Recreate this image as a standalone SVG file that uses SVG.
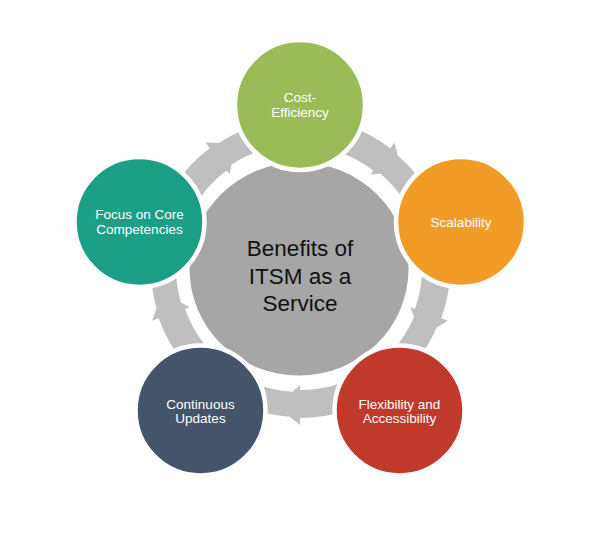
<svg xmlns="http://www.w3.org/2000/svg" width="600" height="550" viewBox="0 0 600 550">
<style>
.arrow{fill:#BFBFBF;}
.node{stroke:#FFFFFF;stroke-width:4.5;}
.lbl{font-family:"Liberation Sans",Arial,sans-serif;font-size:13.5px;fill:#FFFFFF;text-anchor:middle;}
.center{font-family:"Liberation Sans",Arial,sans-serif;font-size:22.5px;fill:#111111;text-anchor:middle;}
</style>
<defs>
<path id="arc" d="M121.35,-88.17 A150,150 0 0 1 150,0 L157,0 L148.64,10.39 A149,149 0 0 1 120.54,87.58 L100.32,72.89 A124,124 0 0 0 123.77,7.57 L117,0 L122,0 A122,122 0 0 0 98.70,-71.71 Z"/>
</defs>
<rect width="600" height="550" fill="#FFFFFF"/>
<g id="connectors">
<use href="#arc" class="arrow" transform="translate(300,268) rotate(-53)"/>
<use href="#arc" class="arrow" transform="translate(300,268) rotate(19.6)"/>
<use href="#arc" class="arrow" transform="translate(300,268) rotate(90)"/>
<use href="#arc" class="arrow" transform="translate(300,268) rotate(160.4)"/>
<use href="#arc" class="arrow" transform="translate(300,268) rotate(233)"/>
</g>
<g id="center">
<ellipse cx="299" cy="269" rx="109.5" ry="106.5" fill="#A6A6A6"/>
<text class="center" x="300" y="256">Benefits of</text>
<text class="center" x="300" y="283.5">ITSM as a</text>
<text class="center" x="300" y="311">Service</text>
</g>
<g id="cost-efficiency">
<circle class="node" cx="300" cy="105" r="65" fill="#9BBB59"/>
<text class="lbl" x="300" y="102">Cost-</text>
<text class="lbl" x="300" y="117">Efficiency</text>
</g>
<g id="scalability">
<circle class="node" cx="461" cy="222" r="65" fill="#F29B26"/>
<text class="lbl" x="461" y="227">Scalability</text>
</g>
<g id="flexibility">
<circle class="node" cx="399.5" cy="410.5" r="65" fill="#C0392B"/>
<text class="lbl" x="399.5" y="408.5">Flexibility and</text>
<text class="lbl" x="399.5" y="423">Accessibility</text>
</g>
<g id="continuous-updates">
<circle class="node" cx="200.5" cy="410.5" r="65" fill="#44546A"/>
<text class="lbl" x="200.5" y="408.5">Continuous</text>
<text class="lbl" x="200.5" y="423">Updates</text>
</g>
<g id="focus">
<circle class="node" cx="139.5" cy="222" r="65" fill="#1BA086"/>
<text class="lbl" x="139.5" y="219">Focus on Core</text>
<text class="lbl" x="139.5" y="233.5">Competencies</text>
</g>
</svg>
